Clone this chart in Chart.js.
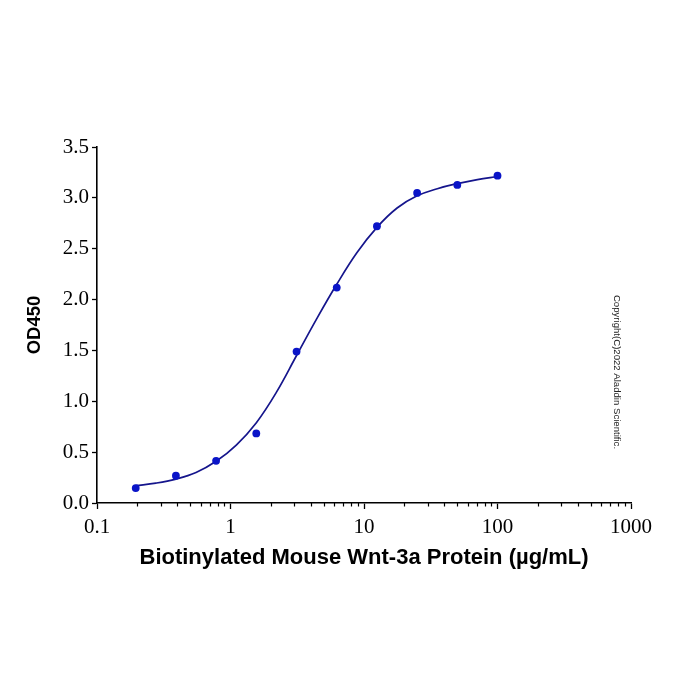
<!DOCTYPE html>
<html>
<head>
<meta charset="utf-8">
<script src="https://cdn.jsdelivr.net/npm/chart.js@4/dist/chart.umd.min.js"></script>
<style>
  body { margin: 0; background: #fff; }
  canvas { display: block; }
</style>
</head>
<body>
<canvas id="elisa" width="700" height="700"></canvas>
<script>
// measured points (doubling dilution from 100 ug/mL)
const concentrations = [0.195, 0.39, 0.78, 1.56, 3.125, 6.25, 12.5, 25, 50, 100];
const od450 = [0.147, 0.268, 0.415, 0.684, 1.489, 2.118, 2.721, 3.048, 3.127, 3.218];

// fitted curve
const fitX = [0.195, 0.276, 0.39, 0.552, 0.78, 1.105, 1.5625, 2.21, 3.125, 4.42, 6.25, 8.84, 12.5, 17.7, 25, 35.4, 50, 70.7, 100];
const fitY = [0.17, 0.195, 0.235, 0.30, 0.41, 0.57, 0.79, 1.09, 1.45, 1.81, 2.15, 2.46, 2.71, 2.90, 3.02, 3.09, 3.14, 3.18, 3.21];

const xMajor = [0.1, 1, 10, 100, 1000];
const xMinor = [];
for (let d = 0; d < xMajor.length - 1; d++) {
  for (let k = 2; k <= 9; k++) xMinor.push(xMajor[d] * k);
}

const serif = '"Liberation Serif", "Times New Roman", serif';
const sans = '"Liberation Sans", Arial, sans-serif';

// minor ticks on the log axis + copyright line
const extras = {
  id: 'extras',
  afterDraw(chart) {
    const c = chart.ctx;
    const xs = chart.scales.x;
    const base = chart.chartArea.bottom;
    c.save();
    c.strokeStyle = '#000';
    c.lineWidth = 1.2;
    xMinor.forEach(function (v) {
      let px = Math.round(xs.getPixelForValue(v)) + 0.5;
      c.beginPath();
      c.moveTo(px, base);
      c.lineTo(px, base + 3.5);
      c.stroke();
    });
    c.translate(616.5, 372);
    c.rotate(Math.PI / 2);
    c.fillStyle = '#222';
    c.font = '9.6px ' + sans;
    c.textAlign = 'center';
    c.textBaseline = 'middle';
    c.fillText('Copyright(C)2022 Aladdin Scientific.', 0, 0);
    c.restore();
  }
};

const pts = concentrations.map(function (x, i) { return { x: x, y: od450[i] }; });
const fit = fitX.map(function (x, i) { return { x: x, y: fitY[i] }; });

new Chart(document.getElementById('elisa').getContext('2d'), {
  type: 'line',
  data: {
    datasets: [
      {
        data: pts,
        showLine: false,
        pointRadius: 3.9,
        pointBackgroundColor: '#0a14c8',
        pointBorderColor: '#0a14c8',
        pointBorderWidth: 0
      },
      {
        data: fit,
        borderColor: '#15158c',
        borderWidth: 1.7,
        pointRadius: 0,
        tension: 0.4,
        fill: false
      }
    ]
  },
  options: {
    responsive: false,
    animation: false,
    layout: { padding: { top: 147, right: 69, left: 0, bottom: 0 } },
    plugins: { legend: { display: false }, tooltip: { enabled: false } },
    scales: {
      x: {
        type: 'logarithmic',
        min: 0.1,
        max: 1000,
        afterBuildTicks: function (scale) {
          scale.ticks = xMajor.map(function (v) { return { value: v, major: true }; });
        },
        afterFit: function (scale) { scale.height = 197; },
        grid: { display: true, drawOnChartArea: false, drawTicks: true, tickLength: 6, color: '#000', tickWidth: 1.3 },
        border: { display: true, color: '#000', width: 1.6 },
        ticks: {
          autoSkip: false,
          maxRotation: 0,
          color: '#000',
          padding: 6,
          font: { family: serif, size: 21 },
          callback: function (v) { return String(v); }
        },
        title: {
          display: true,
          text: 'Biotinylated Mouse Wnt-3a Protein (µg/mL)',
          color: '#000',
          font: { family: sans, size: 22, weight: 'bold' },
          padding: { top: 0, bottom: 129 }
        }
      },
      y: {
        min: 0,
        max: 3.5,
        afterFit: function (scale) { scale.width = 97; },
        grid: { display: true, drawOnChartArea: false, drawTicks: true, tickLength: 5, color: '#000', tickWidth: 1.3 },
        border: { display: true, color: '#000', width: 1.6 },
        ticks: {
          stepSize: 0.5,
          color: '#000',
          padding: 3,
          font: { family: serif, size: 21 },
          callback: function (v) { return v.toFixed(1); }
        },
        title: {
          display: true,
          text: 'OD450',
          color: '#000',
          font: { family: sans, size: 18.5, weight: 'bold' },
          padding: { top: 24, bottom: 0 }
        }
      }
    }
  },
  plugins: [extras]
});
</script>
</body>
</html>
